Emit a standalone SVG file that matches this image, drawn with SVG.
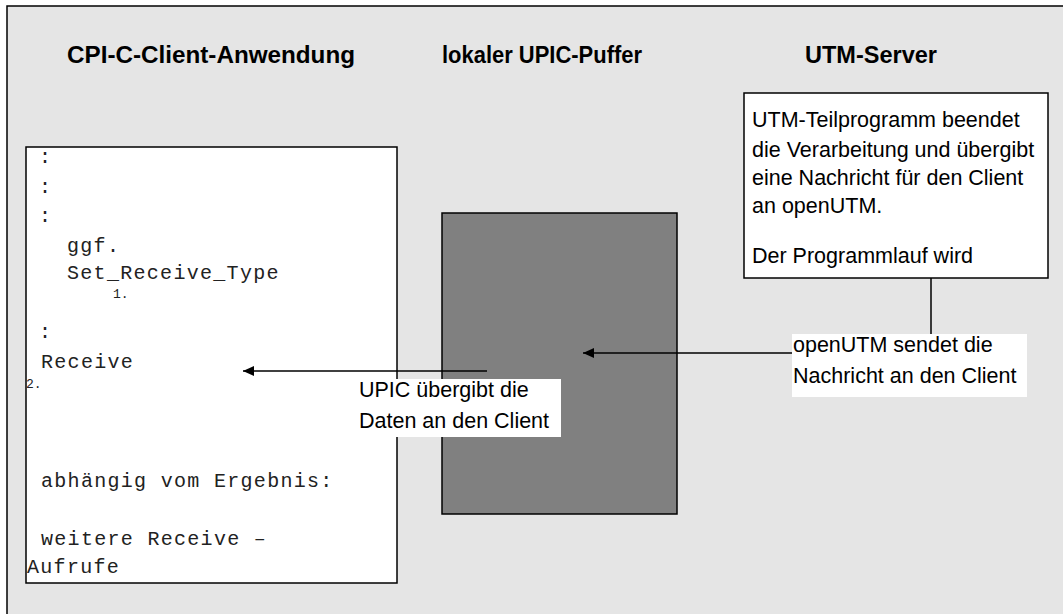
<svg xmlns="http://www.w3.org/2000/svg" width="1063" height="614" viewBox="0 0 1063 614">
<defs>
<style>
.title{font-family:"Liberation Sans",Arial,sans-serif;font-weight:bold;font-size:23px;fill:#000}
.body{font-family:"Liberation Sans",Arial,sans-serif;font-size:21.5px;fill:#000}
.mono{font-family:"Liberation Mono","DejaVu Sans Mono",monospace;font-size:20px;letter-spacing:1.3px;fill:#222}
.small{font-family:"Liberation Mono","DejaVu Sans Mono",monospace;font-size:13px;fill:#222}
.ln{stroke:#000;stroke-width:1.5;fill:none}
</style>
<marker id="ah" markerWidth="12" markerHeight="12" refX="11" refY="5" orient="auto" markerUnits="userSpaceOnUse">
<path d="M0,0 L11,5 L0,10 Z" fill="#000"/>
</marker>
</defs>
<rect x="0" y="0" width="1063" height="614" fill="#fff"/>
<rect x="7" y="6" width="1056" height="608" fill="#e5e5e5"/>
<path d="M7,614 V6 H1063" class="ln" stroke-width="2"/>

<g id="titles">
<text class="title" x="67" y="63" textLength="288" lengthAdjust="spacingAndGlyphs">CPI-C-Client-Anwendung</text>
<text class="title" x="442" y="63" textLength="200" lengthAdjust="spacingAndGlyphs">lokaler UPIC-Puffer</text>
<text class="title" x="805" y="63" textLength="132" lengthAdjust="spacingAndGlyphs">UTM-Server</text>
</g>

<g id="client">
<rect x="26" y="147" width="371" height="436" fill="#fff" stroke="#000" stroke-width="1.5"/>
<text class="mono" x="39" y="163">:</text>
<text class="mono" x="39" y="193">:</text>
<text class="mono" x="39" y="222">:</text>
<text class="mono" x="67" y="252">ggf.</text>
<text class="mono" x="67" y="279">Set_Receive_Type</text>
<text class="small" x="113" y="298">1.</text>
<text class="mono" x="39" y="338">:</text>
<text class="mono" x="41" y="368">Receive</text>
<text class="small" x="26" y="388">2.</text>
<text class="mono" x="41" y="487">abhängig vom Ergebnis:</text>
<text class="mono" x="41" y="545">weitere Receive –</text>
<text class="mono" x="27" y="573">Aufrufe</text>
</g>

<g id="buffer">
<rect x="442" y="213" width="235" height="301" fill="#808080" stroke="#000" stroke-width="1.5"/>
</g>

<g id="server">
<rect x="744" y="93" width="304" height="185" fill="#fff" stroke="#000" stroke-width="1.5"/>
<text class="body" x="752" y="127">UTM-Teilprogramm beendet</text>
<text class="body" x="752" y="157">die Verarbeitung und übergibt</text>
<text class="body" x="752" y="185">eine Nachricht für den Client</text>
<text class="body" x="752" y="213">an openUTM.</text>
<text class="body" x="752" y="263">Der Programmlauf wird</text>
</g>

<g id="connectors">
<line x1="931" y1="278" x2="931" y2="334" class="ln" stroke-width="2"/>
<line x1="793" y1="353" x2="583" y2="353" class="ln" marker-end="url(#ah)"/>
<line x1="487" y1="371" x2="243" y2="371" class="ln" marker-end="url(#ah)"/>
</g>

<g id="label-send">
<rect x="792" y="334" width="235" height="63" fill="#fff"/>
<text class="body" x="793" y="352">openUTM sendet die</text>
<text class="body" x="793" y="383">Nachricht an den Client</text>
</g>

<g id="label-pass">
<rect x="357" y="379" width="204" height="58" fill="#fff"/>
<text class="body" x="359" y="397">UPIC übergibt die</text>
<text class="body" x="359" y="428">Daten an den Client</text>
</g>
</svg>
